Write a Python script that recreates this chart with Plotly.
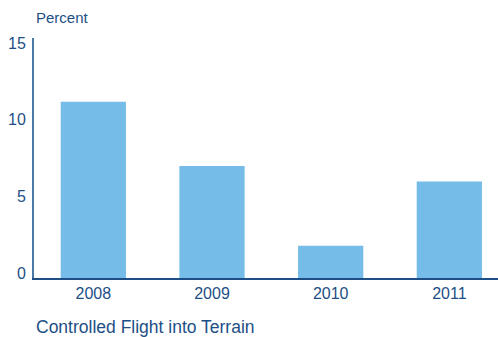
import plotly.graph_objects as go

years = ["2008", "2009", "2010", "2011"]
percent = [11.5, 7.3, 2.1, 6.3]
y_ticks = [0, 5, 10, 15]

text_color = "#1d4f86"
bar_color = "#75bde8"

fig = go.Figure(
    go.Bar(
        x=years,
        y=percent,
        marker=dict(color=bar_color, line=dict(width=0)),
        width=0.55,
    )
)

fig.update_layout(
    width=498,
    height=337,
    margin=dict(l=34, r=0, t=38, b=59),
    paper_bgcolor="white",
    plot_bgcolor="white",
    showlegend=False,
    font=dict(family="Liberation Sans, Arial, sans-serif", color=text_color, size=15),
    xaxis=dict(
        type="category",
        range=[-0.5, 3.41],
        showgrid=False,
        showline=True,
        linecolor=text_color,
        linewidth=2,
        ticks="",
        tickfont=dict(size=16, color=text_color),
        fixedrange=True,
    ),
    yaxis=dict(
        range=[0, 15.65],
        tickvals=y_ticks,
        showgrid=False,
        zeroline=False,
        showline=True,
        linecolor="#4a7aa8",
        linewidth=2,
        ticks="",
        ticklabelshift=-5,
        ticklabelstandoff=3,
        tickfont=dict(size=16, color=text_color),
        fixedrange=True,
    ),
    annotations=[
        dict(
            text="Percent",
            xref="paper", yref="paper",
            x=0.0, y=1.0,
            xanchor="left", yanchor="bottom",
            yshift=10,
            showarrow=False,
            font=dict(size=15, color=text_color),
        ),
        dict(
            text="Controlled Flight into Terrain",
            xref="paper", yref="paper",
            x=0.0, y=0.0,
            xanchor="left", yanchor="middle",
            yshift=-49,
            showarrow=False,
            font=dict(size=17.5, color=text_color),
        ),
    ],
)

fig.write_html("out.html")
